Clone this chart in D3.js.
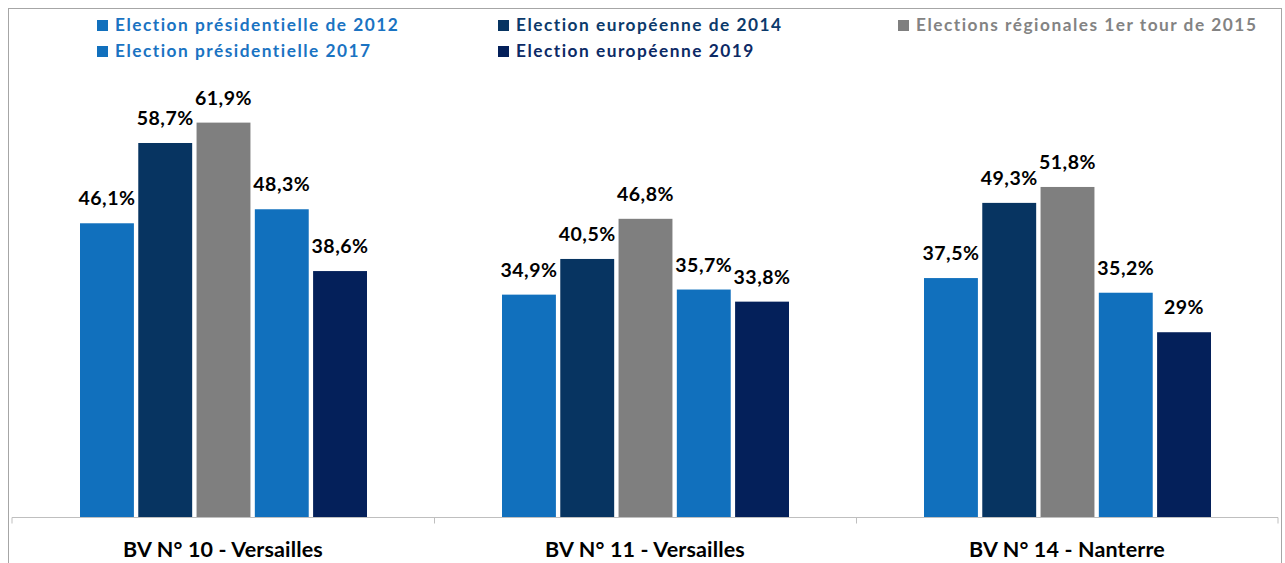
<!DOCTYPE html>
<html>
<head>
<meta charset="utf-8">
<script src="https://cdn.jsdelivr.net/npm/d3@7"></script>
<style>
  body { margin: 0; background: #fff; }
  svg { display: block; font-family: Lato, "Open Sans", sans-serif; }
  .label { font-weight: 700; font-size: 19.5px; fill: #000; letter-spacing: 0.5px; }
  .cat { font-weight: 700; font-size: 21.5px; fill: #000; letter-spacing: 0.15px; }
  .legend text { font-weight: 700; font-size: 17.3px; letter-spacing: 1.5px; }
  .axis path, .axis line { stroke: #bfbfbf; }
</style>
</head>
<body>
<div class="barChart"></div>
<script>
const WIDTH = 1285;
const HEIGHT = 563;
const BASELINE = 517;
const TOP = 71;

var categories = ['BV N° 10 - Versailles', 'BV N° 11 - Versailles', 'BV N° 14 - Nanterre'];
var seriesNames = [
    'Election présidentielle de 2012',
    'Election européenne de 2014',
    'Elections régionales 1er tour de 2015',
    'Election présidentielle 2017',
    'Election européenne 2019'
];
var seriesColors = ['#1170bd', '#073461', '#7f7f7f', '#1170bd', '#04205a'];
var textColors = ['#1a73c2', '#0c3a6b', '#838383', '#1a73c2', '#0c2a66'];

var values2012 = [46.1, 34.9, 37.5];
var values2014 = [58.7, 40.5, 49.3];
var values2015 = [61.9, 46.8, 51.8];
var values2017 = [48.3, 35.7, 35.2];
var values2019 = [38.6, 33.8, 29];
var valueLabels2012 = ['46,1%', '34,9%', '37,5%'];
var valueLabels2014 = ['58,7%', '40,5%', '49,3%'];
var valueLabels2015 = ['61,9%', '46,8%', '51,8%'];
var valueLabels2017 = ['48,3%', '35,7%', '35,2%'];
var valueLabels2019 = ['38,6%', '33,8%', '29%'];

var allValues = [values2012, values2014, values2015, values2017, values2019];
var allLabels = [valueLabels2012, valueLabels2014, valueLabels2015, valueLabels2017, valueLabels2019];

var svg = d3.select('.barChart').append('svg')
    .attr('width', WIDTH)
    .attr('height', HEIGHT);

// chart frame
svg.append('rect')
    .attr('x', 8.5).attr('y', 8.5)
    .attr('width', 1273).attr('height', 570)
    .attr('fill', 'none')
    .attr('stroke', '#a6a6a6');

var x0 = d3.scaleBand().domain(categories).range([12, 1278]);
var x1 = d3.scaleBand().domain(d3.range(seriesNames.length))
    .range([68, x0.bandwidth() - 67])
    .paddingInner(0.075);
var y = d3.scaleLinear().domain([0, 70]).range([BASELINE, TOP]);

var bars = [];
categories.forEach(function (cat, ci) {
    allValues.forEach(function (vals, si) {
        bars.push({cat: cat, s: si, v: vals[ci], label: allLabels[si][ci]});
    });
});

var g = svg.append('g');
g.selectAll('rect').data(bars).enter().append('rect')
    .attr('x', function (d) { return x0(d.cat) + x1(d.s); })
    .attr('y', function (d) { return y(d.v); })
    .attr('width', x1.bandwidth())
    .attr('height', function (d) { return BASELINE - y(d.v); })
    .attr('fill', function (d) { return seriesColors[d.s]; });

g.selectAll('text').data(bars).enter().append('text')
    .attr('class', 'label')
    .attr('x', function (d) { return x0(d.cat) + x1(d.s) + x1.bandwidth() / 2; })
    .attr('y', function (d) { return y(d.v) - 18; })
    .attr('text-anchor', 'middle')
    .text(function (d) { return d.label; });

// category axis
var xAxis = d3.axisBottom(x0).tickSize(0);
var axisG = svg.append('g').attr('class', 'axis')
    .attr('transform', 'translate(0,' + (BASELINE + 0.5) + ')')
    .call(xAxis);
axisG.attr('font-family', null).attr('font-size', null);
axisG.select('.domain').attr('d', 'M12,6V0H1278V6');
axisG.selectAll('.tick text').attr('class', 'cat').attr('y', 39.5).attr('dy', null);
axisG.selectAll('.sep').data(categories.slice(1)).enter().append('line')
    .attr('class', 'sep')
    .attr('x1', function (d) { return Math.round(x0(d)) + 0.5; })
    .attr('x2', function (d) { return Math.round(x0(d)) + 0.5; })
    .attr('y1', 0).attr('y2', 6);

// legend
var legendPos = [[97, 31], [498, 31], [898, 31], [97, 57], [498, 57]];
var legend = svg.append('g').attr('class', 'legend');
var items = legend.selectAll('g').data(seriesNames).enter().append('g')
    .attr('transform', function (d, i) { return 'translate(' + legendPos[i][0] + ',' + legendPos[i][1] + ')'; });
items.append('rect')
    .attr('x', 0).attr('y', -11).attr('width', 11).attr('height', 11)
    .attr('fill', function (d, i) { return seriesColors[i]; });
items.append('text')
    .attr('x', 18).attr('y', 0)
    .attr('fill', function (d, i) { return textColors[i]; })
    .text(function (d) { return d; });
</script>
</body>
</html>
